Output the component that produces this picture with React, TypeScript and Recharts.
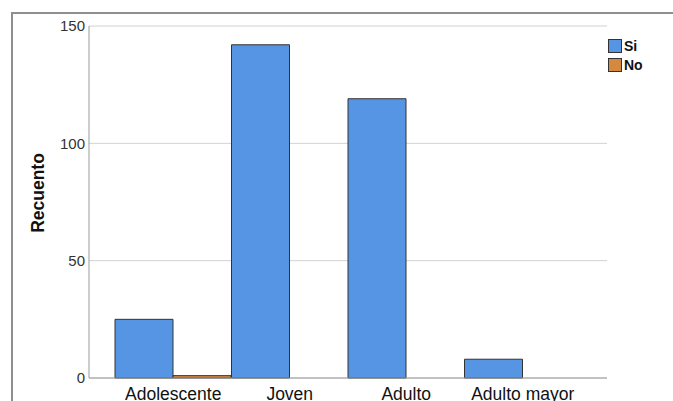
import { BarChart, Bar, XAxis, YAxis, CartesianGrid, Legend } from 'recharts'

const categories = ['Adolescente', 'Joven', 'Adulto', 'Adulto mayor']
const siValues = [25, 142, 119, 8]
const noValues = [1, 0, 0, 0]
const yTicks = [0, 50, 100, 150]

const data = categories.map((name, i) => ({ name, si: siValues[i], no: noValues[i] }))

const FONT = '"Liberation Sans", Arial, sans-serif'
const BLUE = '#5595e4'
const ORANGE = '#d4893f'

function LegendBox() {
  const items = [
    { label: 'Si', color: BLUE },
    { label: 'No', color: ORANGE },
  ]
  return (
    <div style={{ fontFamily: FONT }}>
      {items.map(it => (
        <div key={it.label} style={{ display: 'flex', alignItems: 'center', height: 19 }}>
          <span
            style={{
              width: 14,
              height: 14,
              background: it.color,
              border: '1px solid #333',
              boxSizing: 'border-box',
              display: 'inline-block',
              marginRight: 2,
            }}
          />
          <span style={{ fontSize: 14, fontWeight: 'bold', color: '#111' }}>{it.label}</span>
        </div>
      ))}
    </div>
  )
}

export default function App() {
  return (
    <div style={{ position: 'absolute', left: 0, top: 0, width: 673, height: 401, background: '#fff', overflow: 'hidden' }}>
      {/* outer frame */}
      <div
        style={{
          position: 'absolute',
          left: 11,
          top: 12,
          width: 680,
          height: 400,
          borderTop: '2px solid #8f8f8f',
          borderLeft: '2px solid #8f8f8f',
        }}
      />
      <div style={{ position: 'absolute', left: 0, top: 0 }}>
        <BarChart
          width={673}
          height={401}
          data={data}
          margin={{ top: 26, right: 6, bottom: 0, left: 0 }}
          barCategoryGap={0}
          barGap={0}
        >
          <CartesianGrid vertical={false} stroke="#d2d2d2" />
          <XAxis
            dataKey="name"
            padding={{ left: 26, right: 26 }}
            height={23}
            tickSize={0}
            tickMargin={10}
            axisLine={{ stroke: '#9a9a9a' }}
            tick={{ fontSize: 17.5, fill: '#111', fontFamily: FONT }}
            interval={0}
          />
          <YAxis
            width={89}
            domain={[0, 150]}
            ticks={yTicks}
            tickSize={0}
            tickMargin={4}
            axisLine={{ stroke: '#9a9a9a' }}
            tick={{ fontSize: 15, fill: '#333', fontFamily: FONT }}
            label={{
              content: () => (
                <text
                  x={38}
                  y={193}
                  transform="rotate(-90 38 193)"
                  textAnchor="middle"
                  dominantBaseline="central"
                  fontFamily={FONT}
                  fontSize={17.5}
                  fontWeight="bold"
                  fill="#111"
                >
                  Recuento
                </text>
              ),
            }}
          />
          <Legend
            layout="vertical"
            align="right"
            verticalAlign="top"
            wrapperStyle={{ top: 36, left: 608, width: 60 }}
            content={() => <LegendBox />}
          />
          <Bar dataKey="si" fill={BLUE} stroke="#333" strokeWidth={1} isAnimationActive={false} />
          <Bar dataKey="no" fill={ORANGE} stroke="#333" strokeWidth={1} isAnimationActive={false} />
        </BarChart>
      </div>
    </div>
  )
}
